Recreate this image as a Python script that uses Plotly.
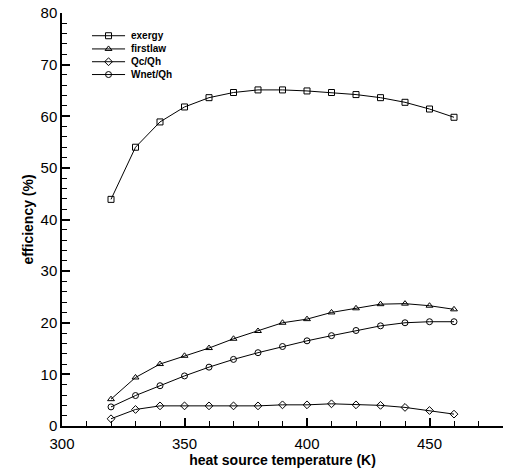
import plotly.graph_objects as go

temps = [320, 330, 340, 350, 360, 370, 380, 390, 400, 410, 420, 430, 440, 450, 460]
exergy = [43.9, 54.0, 58.9, 61.8, 63.6, 64.6, 65.1, 65.1, 64.9, 64.6, 64.2, 63.6, 62.7, 61.4, 59.8]
firstlaw = [5.2, 9.4, 12.0, 13.6, 15.1, 16.9, 18.4, 20.0, 20.7, 22.0, 22.8, 23.6, 23.7, 23.3, 22.6]
qc_qh = [1.4, 3.2, 3.9, 3.9, 3.9, 3.9, 3.9, 4.1, 4.1, 4.3, 4.1, 4.0, 3.6, 3.0, 2.3]
wnet_qh = [3.7, 5.9, 7.8, 9.7, 11.4, 12.9, 14.2, 15.4, 16.5, 17.5, 18.5, 19.4, 20.0, 20.2, 20.2]

series_names = ["exergy", "firstlaw", "Qc/Qh", "Wnet/Qh"]
series_values = [exergy, firstlaw, qc_qh, wnet_qh]
series_symbols = ["square-open", "triangle-up-open", "diamond-open", "circle-open"]

# legend key layout (fractions of the plot area, on a hidden overlay axis)
legend_rows = [0.945, 0.913, 0.882, 0.851]
legend_line_x = [0.068, 0.143]
legend_text_x = 0.153

FONT = "Liberation Sans, Arial, Helvetica"

fig = go.Figure()
for name, vals, sym in zip(series_names, series_values, series_symbols):
    fig.add_trace(go.Scatter(
        x=temps, y=vals, name=name, mode="lines+markers", showlegend=False,
        line=dict(color="black", width=1),
        marker=dict(symbol=sym, size=6, color="black", line=dict(width=1, color="black")),
    ))

# legend keys drawn on a hidden overlay axis
for name, sym, ry in zip(series_names, series_symbols, legend_rows):
    fig.add_trace(go.Scatter(
        x=legend_line_x, y=[ry, ry], xaxis="x2", yaxis="y2", mode="lines",
        line=dict(color="black", width=1), showlegend=False, hoverinfo="skip",
    ))
    fig.add_trace(go.Scatter(
        x=[sum(legend_line_x) / 2], y=[ry], xaxis="x2", yaxis="y2", mode="markers",
        marker=dict(symbol=sym, size=6, color="black", line=dict(width=1, color="black")),
        showlegend=False, hoverinfo="skip",
    ))
    fig.add_annotation(
        x=legend_text_x, y=ry, xref="x2", yref="y2", text="<b>%s</b>" % name,
        showarrow=False, xanchor="left", yanchor="middle",
        font=dict(family=FONT, size=10, color="black"),
    )

axis_common = dict(
    showline=True, linecolor="black", linewidth=1.5,
    ticks="inside", ticklen=8, tickwidth=1.5, tickcolor="black",
    showgrid=False, zeroline=False, mirror=False,
    tickfont=dict(family=FONT, size=15, color="black"),
)

fig.update_layout(
    xaxis=dict(
        range=[300, 480], dtick=50, tick0=300, ticklabelstandoff=3,
        minor=dict(dtick=10, ticks="inside", ticklen=5, tickcolor="black", tickwidth=1),
        title=dict(text="<b>heat source temperature (K)</b>", font=dict(family=FONT, size=14, color="black"), standoff=4),
        **axis_common,
    ),
    yaxis=dict(
        range=[0, 80], dtick=10, tick0=0,
        minor=dict(dtick=2, ticks="inside", ticklen=5, tickcolor="black", tickwidth=1),
        title=dict(text="<b>efficiency (%)</b>", font=dict(family=FONT, size=14, color="black"), standoff=4),
        **axis_common,
    ),
    xaxis2=dict(overlaying="x", range=[0, 1], visible=False, showgrid=False, zeroline=False),
    yaxis2=dict(overlaying="y", range=[0, 1], visible=False, showgrid=False, zeroline=False),
    width=506, height=476,
    margin=dict(l=62, r=3, t=13, b=50),
    plot_bgcolor="white", paper_bgcolor="white",
    showlegend=False,
)

fig.write_html("out.html")
